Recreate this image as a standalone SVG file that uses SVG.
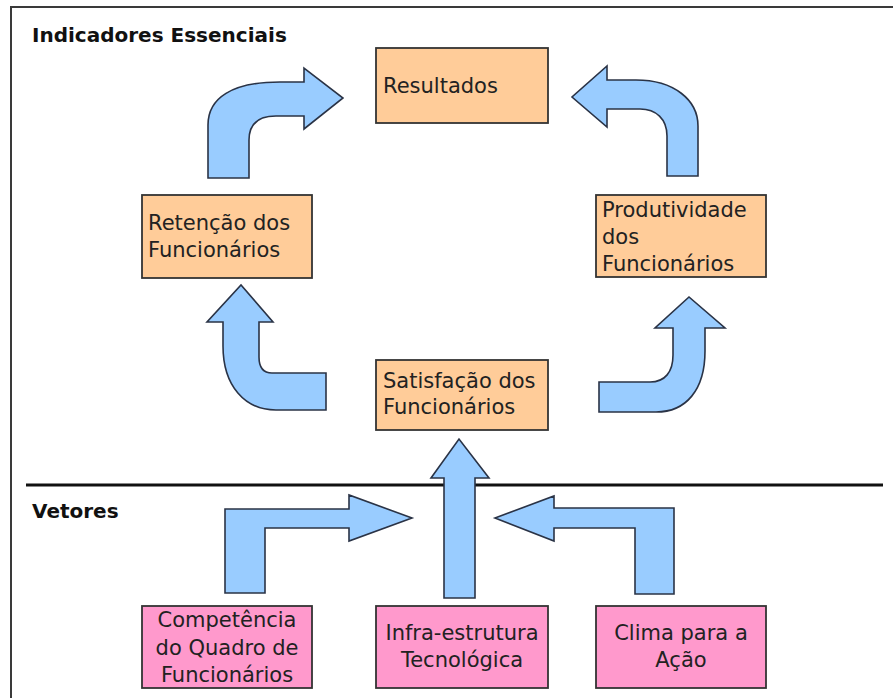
<svg xmlns="http://www.w3.org/2000/svg" width="893" height="698" viewBox="0 0 893 698">
<style>
.bg{fill:#ffffff}
.frame{fill:none;stroke:#3a3a3a;stroke-width:2}
.sep{stroke:#111;stroke-width:3}
.title{font-family:"DejaVu Sans",Verdana,sans-serif;font-weight:bold;font-size:20px;fill:#111}
.ind{fill:#FFCC99;stroke:#333;stroke-width:1.8}
.vet{fill:#FF99CC;stroke:#333;stroke-width:1.8}
.lbl{font-family:"DejaVu Sans",Verdana,sans-serif;font-size:21px;fill:#222}
.mid{text-anchor:middle}
.arr{fill:#99CCFF;stroke:#2a3346;stroke-width:1.6;stroke-linejoin:miter}
</style>
<rect class="bg" x="0" y="0" width="893" height="698"/>
<path class="frame" d="M11,698 L11,7 L893,7"/>
<line class="sep" x1="26" y1="485" x2="883" y2="485"/>
<text class="title" x="32" y="42">Indicadores Essenciais</text>
<text class="title" x="32" y="518">Vetores</text>

<g id="connectors">
  <path id="a-ret-res" class="arr" d="M208,178 L208,125 C208,98 232,82 280,82 L304,82 L304,68 L343,98 L304,129 L304,116 L276,116 C258,116 249,124 249,140 L249,178 Z"/>
  <path id="a-prod-res" class="arr" d="M667,176 L667,136 C667,119 656,109 640,109 L607,109 L607,127 L572,97 L607,66 L607,80 L636,80 C674,80 698,100 698,126 L698,176 Z"/>
  <path id="a-sat-ret" class="arr" d="M326,373 L272,373 C263,373 259,367 259,357 L259,322 L273,322 L241,285 L207,322 L223,322 L223,346 C223,386 245,410 276,410 L326,410 Z"/>
  <path id="a-sat-prod" class="arr" d="M599,382 L650,382 C665,382 673,372 673,355 L673,328 L655,328 L689,297 L725,328 L705,328 L705,351 C705,390 686,412 656,412 L599,412 Z"/>
  <path id="a-comp-sat" class="arr" d="M225,593 L225,509 L349,509 L349,495 L412,518 L349,541 L349,528 L265,528 L265,593 Z"/>
  <path id="a-clima-sat" class="arr" d="M674,594 L674,508 L554,508 L554,496 L495,518 L554,541 L554,528 L635,528 L635,594 Z"/>
  <path id="a-infra-sat" class="arr" d="M444,598 L444,478 L431,478 L459,439 L489,478 L475,478 L475,598 Z"/>
</g>

<g id="resultados">
  <rect class="ind" x="376" y="48" width="172" height="75"/>
  <text class="lbl" x="383" y="93">Resultados</text>
</g>
<g id="retencao">
  <rect class="ind" x="142" y="195" width="170" height="83"/>
  <text class="lbl"><tspan x="148" y="230">Retenção dos</tspan><tspan x="148" y="257">Funcionários</tspan></text>
</g>
<g id="produtividade">
  <rect class="ind" x="596" y="195" width="170" height="82"/>
  <text class="lbl"><tspan x="602" y="217">Produtividade</tspan><tspan x="602" y="244">dos</tspan><tspan x="602" y="271">Funcionários</tspan></text>
</g>
<g id="satisfacao">
  <rect class="ind" x="376" y="360" width="172" height="70"/>
  <text class="lbl"><tspan x="383" y="388">Satisfação dos</tspan><tspan x="383" y="414">Funcionários</tspan></text>
</g>
<g id="competencia">
  <rect class="vet" x="142" y="606" width="170" height="82"/>
  <text class="lbl mid"><tspan x="227" y="627">Competência</tspan><tspan x="227" y="654.5">do Quadro de</tspan><tspan x="227" y="682">Funcionários</tspan></text>
</g>
<g id="infra">
  <rect class="vet" x="376" y="606" width="172" height="82"/>
  <text class="lbl mid"><tspan x="462" y="640">Infra-estrutura</tspan><tspan x="462" y="667">Tecnológica</tspan></text>
</g>
<g id="clima">
  <rect class="vet" x="596" y="606" width="170" height="82"/>
  <text class="lbl mid"><tspan x="681" y="640">Clima para a</tspan><tspan x="681" y="667">Ação</tspan></text>
</g>
</svg>
